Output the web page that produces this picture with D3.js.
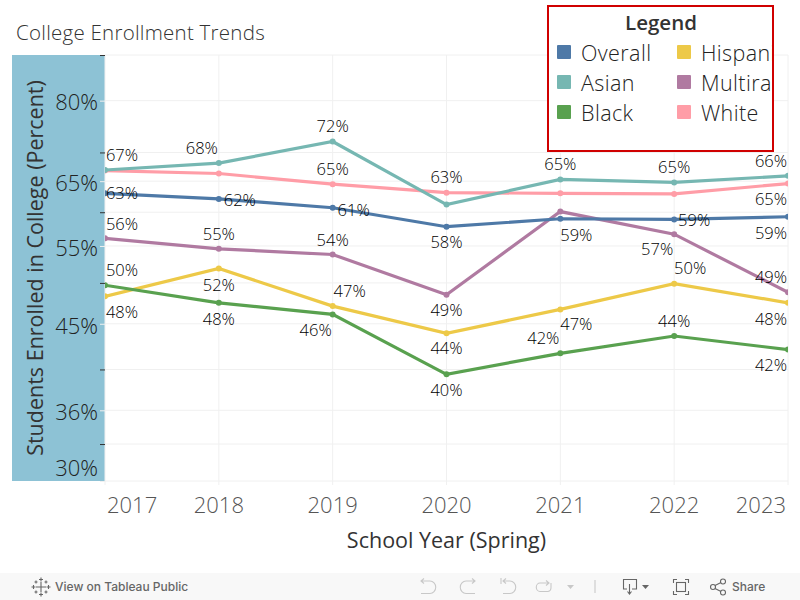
<!DOCTYPE html>
<html>
<head>
<meta charset="utf-8">
<script src="https://cdn.jsdelivr.net/npm/d3@7"></script>
<style>
  html, body { margin: 0; padding: 0; background: #fff; }
  text { font-family: "Open Sans", Lato, sans-serif; }
</style>
</head>
<body>
<div id="chart"></div>
<script>
const years = [2017, 2018, 2019, 2020, 2021, 2022, 2023];
const overall = [63.0, 62.1, 60.7, 57.8, 59.0, 58.9, 59.3];
const asian = [66.9, 68.1, 72.0, 61.2, 65.3, 64.8, 65.9];
const black = [49.7, 47.5, 46.1, 39.5, 41.7, 43.6, 42.1];
const hispanic = [48.3, 51.9, 47.1, 43.9, 46.7, 49.9, 47.5];
const multiracial = [56.1, 54.6, 53.8, 48.5, 60.1, 56.7, 48.8];
const white = [66.8, 66.3, 64.5, 63.1, 63.0, 62.9, 64.6];

const seriesNames = ["Overall", "Asian", "Black", "Hispanic", "Multiracial", "White"];
const seriesValues = [overall, asian, black, hispanic, multiracial, white];
const seriesColors = ["#4e79a7", "#76b7b2", "#59a14f", "#edc948", "#b07aa1", "#ff9da7"];

const yMajor = [80, 65, 55, 45, 36, 30];
const yMinor = [90, 70, 60, 50, 40, 33];

// label placement: series index, year index, dx, dy from the point
const labels = [
  [1, 0, 17, -15], [1, 1, -17, -15], [1, 2, 0, -15], [1, 4, 0, -15], [1, 5, 0, -15], [1, 6, -17, -15],
  [5, 2, 0, -15], [5, 3, 0, -15], [5, 6, -17, 16],
  [0, 0, 17, 0], [0, 1, 21, 1], [0, 2, 21, 2], [0, 3, 0, 16], [0, 4, 16, 16], [0, 5, 20, 1], [0, 6, -17, 16],
  [4, 0, 17, -14], [4, 1, 0, -15], [4, 2, 0, -14], [4, 3, 0, 15], [4, 5, -17, 15], [4, 6, -17, -15],
  [3, 0, 17, 16], [3, 1, 0, 17], [3, 2, 17, -15], [3, 3, 0, 15], [3, 4, 16, 15], [3, 5, 16, -15], [3, 6, -17, 16],
  [2, 0, 17, -15], [2, 1, 0, 16], [2, 2, -17, 16], [2, 3, 0, 16], [2, 4, -17, -15], [2, 5, 0, -15], [2, 6, -17, 16]
];

const width = 800;
const height = 600;
const plot = { left: 105, right: 788, top: 55, bottom: 481 };

const svg = d3.select("#chart").append("svg")
  .attr("width", width)
  .attr("height", height)
  .style("display", "block");

const x = d3.scaleLinear().domain([2017, 2023]).range([plot.left, plot.right]);
const y = d3.scaleLog().domain([30, 90]).range([plot.bottom, plot.top]);

svg.append("clipPath").attr("id", "plot-clip").append("rect")
  .attr("x", plot.left).attr("y", plot.top)
  .attr("width", plot.right - plot.left).attr("height", plot.bottom - plot.top);
svg.append("clipPath").attr("id", "legend-clip").append("rect")
  .attr("x", 549).attr("y", 7).attr("width", 223).attr("height", 143);

// title
svg.append("text")
  .attr("x", 16).attr("y", 40)
  .attr("font-size", "20.5px")
  .attr("font-weight", 300)
  .attr("letter-spacing", "0.25px")
  .attr("fill", "#333")
  .text("College Enrollment Trends");

// y axis band
svg.append("rect")
  .attr("x", 12).attr("y", plot.top)
  .attr("width", plot.left - 12).attr("height", plot.bottom - plot.top)
  .attr("fill", "#8dc2d5");

// grid
svg.append("g").selectAll("line")
  .data(yMajor.concat(yMinor))
  .enter().append("line")
  .attr("x1", plot.left).attr("x2", plot.right)
  .attr("y1", d => y(d)).attr("y2", d => y(d))
  .attr("stroke", "#f0f0f0");
svg.append("g").selectAll("line")
  .data(years)
  .enter().append("line")
  .attr("x1", d => x(d)).attr("x2", d => x(d))
  .attr("y1", plot.top).attr("y2", plot.bottom + 4)
  .attr("stroke", "#f0f0f0");

// axes
const yAxisMajor = d3.axisLeft(y).tickValues(yMajor).tickSize(5).tickFormat(d => d + "%");
const gy = svg.append("g").attr("transform", "translate(" + plot.left + ",0)").call(yAxisMajor);
gy.select(".domain").remove();
gy.selectAll("line").attr("stroke", "#f0f0f0");
gy.selectAll("text")
  .attr("font-size", "22px")
  .attr("font-weight", 300)
  .attr("font-family", "'Open Sans', sans-serif")
  .attr("fill", "#222")
  .attr("x", -7)
  .attr("dy", d => d === 30 ? "-0.25em" : "0.42em");

const yAxisMinor = d3.axisLeft(y).tickValues(yMinor).tickSize(5).tickFormat("");
const gm = svg.append("g").attr("transform", "translate(" + plot.left + ",0)").call(yAxisMinor);
gm.select(".domain").remove();
gm.selectAll("line").attr("stroke", "#333");

svg.append("text")
  .attr("transform", "translate(43,268) rotate(-90)")
  .attr("text-anchor", "middle")
  .attr("font-size", "21.5px")
  .attr("fill", "#333")
  .text("Students Enrolled in College (Percent)");

// year labels, first and last kept inside the plot
svg.append("g").selectAll("text")
  .data(years)
  .enter().append("text")
  .attr("x", d => x(d))
  .attr("y", 513)
  .attr("text-anchor", (d, i) => i === 0 ? "start" : i === years.length - 1 ? "end" : "middle")
  .attr("dx", (d, i) => i === 0 ? 2 : i === years.length - 1 ? -2 : 0)
  .attr("font-size", "22px")
  .attr("font-weight", 300)
  .attr("fill", "#555")
  .text(d => d);

svg.append("text")
  .attr("x", 446.5).attr("y", 548)
  .attr("text-anchor", "middle")
  .attr("font-size", "21.5px")
  .attr("fill", "#333")
  .text("School Year (Spring)");

// lines
const line = d3.line().x((d, i) => x(years[i])).y(d => y(d));
const marks = svg.append("g").attr("clip-path", "url(#plot-clip)");
const drawOrder = [3, 2, 5, 1, 4, 0];
drawOrder.forEach(s => {
  marks.append("path")
    .datum(seriesValues[s])
    .attr("d", line)
    .attr("fill", "none")
    .attr("stroke", seriesColors[s])
    .attr("stroke-width", 3.2);
  marks.selectAll(null)
    .data(seriesValues[s])
    .enter().append("circle")
    .attr("cx", (d, i) => x(years[i]))
    .attr("cy", d => y(d))
    .attr("r", 3)
    .attr("fill", seriesColors[s]);
});

// value labels
svg.append("g").selectAll("text")
  .data(labels)
  .enter().append("text")
  .attr("x", d => x(years[d[1]]) + d[2])
  .attr("y", d => y(seriesValues[d[0]][d[1]]) + d[3])
  .attr("dy", "0.35em")
  .attr("text-anchor", "middle")
  .attr("font-size", "16.5px")
  .attr("font-weight", 300)
  .attr("fill", "#000")
  .text(d => Math.round(seriesValues[d[0]][d[1]]) + "%");

// legend
svg.append("rect")
  .attr("x", 548).attr("y", 6)
  .attr("width", 225).attr("height", 145)
  .attr("fill", "#fff")
  .attr("stroke", "#d00000")
  .attr("stroke-width", 2);

const legend = svg.append("g").attr("clip-path", "url(#legend-clip)");
legend.append("text")
  .attr("x", 661).attr("y", 30)
  .attr("text-anchor", "middle")
  .attr("font-size", "20.5px")
  .attr("font-weight", 600)
  .attr("fill", "#333")
  .text("Legend");
const item = legend.selectAll("g")
  .data(seriesNames)
  .enter().append("g")
  .attr("transform", (d, i) => "translate(" + (i < 3 ? 557 : 677) + "," + (45 + (i % 3) * 30) + ")");
item.append("rect")
  .attr("width", 14).attr("height", 14).attr("rx", 1)
  .attr("fill", (d, i) => seriesColors[i]);
item.append("text")
  .attr("x", 24).attr("y", 16)
  .attr("font-size", "21.5px")
  .attr("font-weight", 300)
  .attr("letter-spacing", "0.4px")
  .attr("fill", "#222")
  .text(d => d);

// footer
svg.append("rect")
  .attr("x", 0).attr("y", 573)
  .attr("width", width).attr("height", 27)
  .attr("fill", "#f8f8f8");
svg.append("text")
  .attr("x", 55).attr("y", 591)
  .style("font-family", "Inter, sans-serif")
  .attr("font-size", "12px")
  .attr("font-weight", 500)
  .attr("fill", "#666")
  .text("View on Tableau Public");
svg.append("text")
  .attr("x", 732).attr("y", 591)
  .style("font-family", "Inter, sans-serif")
  .attr("font-size", "12px")
  .attr("font-weight", 500)
  .attr("fill", "#666")
  .text("Share");

// footer icons
const icons = svg.append("g").attr("fill", "none").attr("stroke-width", 1.1);
const logo = icons.append("g").attr("stroke", "#666");
[[41, 587, 5], [41, 579.5, 2], [41, 594.5, 2], [33.5, 587, 2], [48.5, 587, 2],
 [36, 582, 1.5], [46, 582, 1.5], [36, 592, 1.5], [46, 592, 1.5]].forEach(p => {
  logo.append("path").attr("d", "M" + (p[0] - p[2]) + "," + p[1] + "H" + (p[0] + p[2]) + "M" + p[0] + "," + (p[1] - p[2]) + "V" + (p[1] + p[2]));
});
const faint = icons.append("g").attr("stroke", "#c8c8c8");
faint.append("path").attr("d", "M421,581H430a5.5,6 0 0 1 0,12.5H421M424,578.500L421,581L424,583.500");
faint.append("path").attr("d", "M475,581H466a5.5,6 0 0 0 0,12.500H475M472,578.500L475,581L472,583.500");
faint.append("path").attr("d", "M501,578V584M503,581H510a5.500,6 0 0 1 0,12.500H503M506,578.500L503,581L506,583.500");
faint.append("path").attr("d", "M549,583H540a3.500,4 0 0 0 0,8.500H548a3.500,4 0 0 0 3,-4V583M546,580.500L549,583L546,585.500");
faint.append("path").attr("d", "M595,580V593");
svg.append("path").attr("d", "M567,585H574L570.500,589Z").attr("fill", "#c8c8c8");
const dark = icons.append("g").attr("stroke", "#666");
dark.append("path").attr("d", "M627,589H623.500V579.500H636.500V589H632M629.500,584V594M627.500,591.500L629.500,594L631.500,591.500");
dark.append("path").attr("d", "M673.500,583V579.500H677M685,579.500H688.500V583M688.500,591V594.500H685M677,594.500H673.500V591");
dark.append("rect").attr("x", 676.5).attr("y", 582.5).attr("width", 9).attr("height", 9);
dark.append("circle").attr("cx", 713).attr("cy", 587).attr("r", 2.5);
dark.append("circle").attr("cx", 723).attr("cy", 581.5).attr("r", 2.5);
dark.append("circle").attr("cx", 723).attr("cy", 592.5).attr("r", 2.5);
dark.append("path").attr("d", "M715,585.500L721,582.500M715,588.500L721,591.500");
svg.append("path").attr("d", "M642,585H649L645.500,589Z").attr("fill", "#666");
</script>
</body>
</html>
